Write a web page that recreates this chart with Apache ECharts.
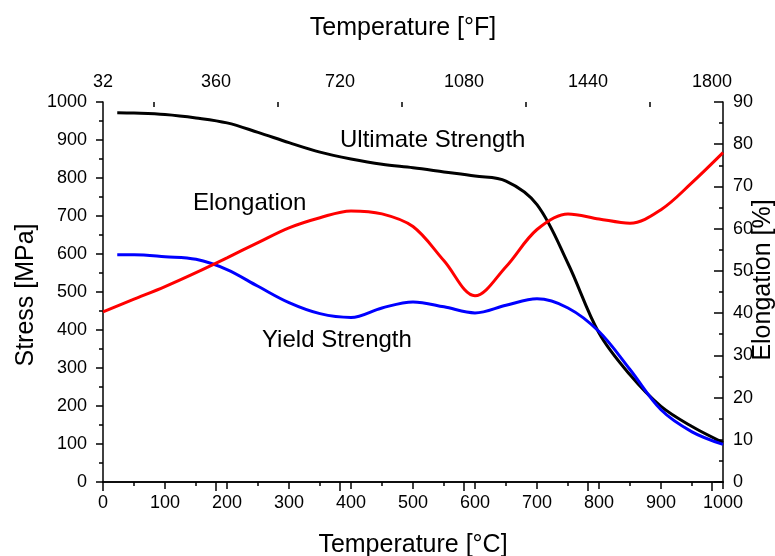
<!DOCTYPE html>
<html>
<head>
<meta charset="utf-8">
<script src="https://cdn.jsdelivr.net/npm/echarts@6/dist/echarts.min.js"></script>
<style>
  html, body { margin: 0; padding: 0; background: #fff; }
  #chart { width: 775px; height: 556px; }
</style>
</head>
<body>
<div id="chart"></div>
<script>
// values (temperature in °C)
var ultTemp = [23, 50, 100, 150, 200, 250, 300, 350, 400, 450, 500, 550, 600, 650, 700, 750, 800, 850, 900, 950, 1000];
var ultVals = [972, 971, 967, 958, 945, 920, 893, 868, 850, 836, 827, 816, 805, 792, 730, 575, 392, 282, 199, 146, 104];

var yldTemp = [23, 50, 100, 150, 200, 250, 300, 350, 400, 450, 500, 550, 600, 650, 700, 750, 800, 850, 900, 950, 1000];
var yldVals = [598, 598, 593, 586, 559, 515, 472, 443, 433, 458, 474, 461, 445, 465, 482, 458, 396, 296, 190, 132, 99];

var elTemp = [0, 50, 100, 150, 200, 250, 300, 350, 400, 450, 500, 550, 600, 650, 700, 750, 800, 850, 900, 950, 1000];
var elVals = [40.3, 43.3, 46.3, 49.6, 53.1, 56.7, 60.2, 62.6, 64.2, 63.5, 60.5, 52.4, 44.1, 51, 59.8, 63.5, 62.3, 61.3, 64.5, 70.9, 78];

var fLabels = [32, 360, 720, 1080, 1440, 1800];
var fMinor = [180, 540, 900, 1260, 1620];

function pairs(xs, ys) {
  return xs.map(function (x, i) { return [x, ys[i]]; });
}
function plain(v) { return String(v); }

var font = '"Liberation Sans", Arial, sans-serif';
var tickStyle = { color: '#000', width: 1.5 };
var chart = echarts.init(document.getElementById('chart'));

var option = {
  backgroundColor: '#fff',
  animation: false,
  textStyle: { fontFamily: font },
  grid: { left: 103, right: 52, top: 102, bottom: 74 },
  xAxis: [
    {
      type: 'value', position: 'bottom', min: 0, max: 1000, interval: 100,
      axisLine: { lineStyle: tickStyle },
      axisTick: { inside: false, length: 7, lineStyle: tickStyle },
      minorTick: { show: true, splitNumber: 2, length: 4, lineStyle: tickStyle },
      axisLabel: { color: '#000', fontSize: 18, margin: 12, fontFamily: font, formatter: plain },
      splitLine: { show: false }
    },
    {
      type: 'value', position: 'top', min: 32, max: 1832,
      axisLine: { lineStyle: tickStyle },
      axisTick: { inside: true, length: 9, customValues: fLabels, lineStyle: tickStyle },
      axisLabel: { color: '#000', fontSize: 18, margin: 11, customValues: fLabels, fontFamily: font, formatter: plain },
      splitLine: { show: false }
    },
    {
      type: 'value', position: 'top', min: 32, max: 1832,
      axisLine: { show: false },
      axisTick: { inside: true, length: 5, customValues: fMinor, lineStyle: tickStyle },
      axisLabel: { show: false },
      splitLine: { show: false }
    }
  ],
  yAxis: [
    {
      type: 'value', position: 'left', min: 0, max: 1000, interval: 100,
      axisLine: { show: true, lineStyle: tickStyle },
      axisTick: { show: true, inside: false, length: 7, lineStyle: tickStyle },
      minorTick: { show: true, splitNumber: 2, length: 4, lineStyle: tickStyle },
      axisLabel: { color: '#000', fontSize: 18, margin: 16, fontFamily: font, formatter: plain },
      splitLine: { show: false }
    },
    {
      type: 'value', position: 'right', min: 0, max: 90, interval: 10,
      axisLine: { show: true, lineStyle: tickStyle },
      axisTick: { show: true, inside: true, length: 9, lineStyle: tickStyle },
      minorTick: { show: true, splitNumber: 2, length: 4, lineStyle: tickStyle },
      axisLabel: { color: '#000', fontSize: 18, margin: 10, fontFamily: font, formatter: plain },
      splitLine: { show: false }
    }
  ],
  series: [
    {
      name: 'Ultimate Strength', type: 'line', xAxisIndex: 0, yAxisIndex: 0,
      data: pairs(ultTemp, ultVals), smooth: 0.35, smoothConstraint: false, showSymbol: false,
      lineStyle: { color: '#000', width: 3 }
    },
    {
      name: 'Yield Strength', type: 'line', xAxisIndex: 0, yAxisIndex: 0,
      data: pairs(yldTemp, yldVals), smooth: 0.35, smoothConstraint: false, showSymbol: false,
      lineStyle: { color: '#0000ff', width: 3 }
    },
    {
      name: 'Elongation', type: 'line', xAxisIndex: 0, yAxisIndex: 1,
      data: pairs(elTemp, elVals), smooth: 0.35, smoothConstraint: false, showSymbol: false,
      lineStyle: { color: '#ff0000', width: 3 }
    }
  ],
  graphic: [
    { type: 'text', x: 403, y: 28, style: { text: 'Temperature [°F]', fill: '#000', font: '25px ' + font, align: 'center', verticalAlign: 'middle' } },
    { type: 'text', x: 413, y: 545, style: { text: 'Temperature [°C]', fill: '#000', font: '25px ' + font, align: 'center', verticalAlign: 'middle' } },
    { type: 'text', x: 26, y: 295, rotation: Math.PI / 2, style: { text: 'Stress [MPa]', fill: '#000', font: '25px ' + font, align: 'center', verticalAlign: 'middle' } },
    { type: 'text', x: 763, y: 280, rotation: Math.PI / 2, style: { text: 'Elongation [%]', fill: '#000', font: '25px ' + font, align: 'center', verticalAlign: 'middle' } },
    { type: 'text', x: 340, y: 140, style: { text: 'Ultimate Strength', fill: '#000', font: '24px ' + font, verticalAlign: 'middle' } },
    { type: 'text', x: 193, y: 203, style: { text: 'Elongation', fill: '#000', font: '24px ' + font, verticalAlign: 'middle' } },
    { type: 'text', x: 262, y: 340, style: { text: 'Yield Strength', fill: '#000', font: '24px ' + font, verticalAlign: 'middle' } }
  ]
};
chart.setOption(option);
</script>
</body>
</html>
